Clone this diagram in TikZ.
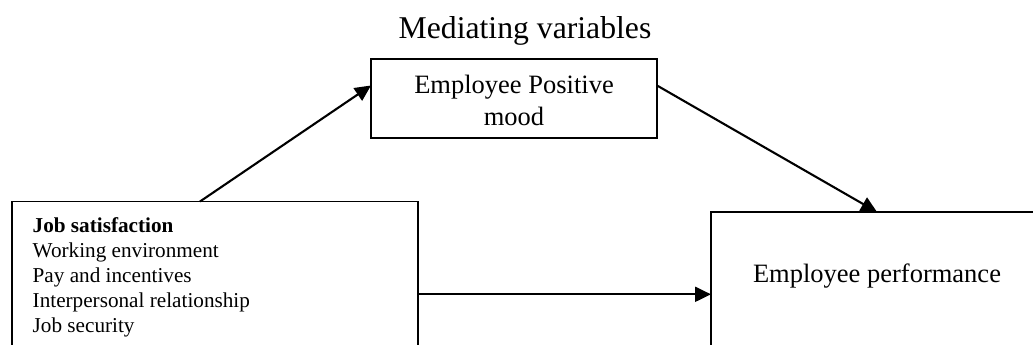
\documentclass[tikz,border=0pt]{standalone}
\usepackage{fontspec}
\setmainfont{Liberation Serif}
\usetikzlibrary{arrows.meta}
\begin{document}
\begin{tikzpicture}[x=1pt,y=-1pt,
  box/.style={draw, line width=1.9pt, outer sep=0pt, inner sep=0pt, anchor=north west},
  arr/.style={line width=2.1pt, -{Triangle[length=16pt,width=15pt]}},
  lbl/.style={inner sep=0pt, outer sep=0pt}]
\useasboundingbox (0,0) rectangle (1033,345);
\clip (0,0) rectangle (1033,345);
\node[box, minimum width=406pt, minimum height=185.6pt] (lbox) at (12,201.5) {};
\node[box, minimum width=286pt, minimum height=79pt] (mbox) at (371,59.3) {};
\node[box, minimum width=332pt, minimum height=164.6pt] (rbox) at (711,212) {};
\node[lbl, anchor=base, font=\fontsize{31.7}{38}\selectfont] (title) at (525,38.3) {Mediating variables};
\node[lbl, anchor=base, align=center, font=\fontsize{26.5}{31.7}\selectfont] (mtext) at (514,125) {Employee Positive\\mood};
\node[lbl, anchor=base, font=\fontsize{26.5}{31.7}\selectfont] (rtext) at (877,282) {Employee performance};
\node[lbl, anchor=base west, align=left, font=\fontsize{21.2}{25}\selectfont] (ltext) at (32.7,332.7) {\textbf{Job satisfaction}\\Working environment\\Pay and incentives\\Interpersonal relationship\\Job security};
\draw[arr] ([xshift=188pt]lbox.north west) -- ([yshift=13.3pt]mbox.west);
\draw[arr] ([yshift=13.3pt]mbox.east) -- (rbox.north);
\draw[arr] (lbox.east) -- (rbox.west);
\end{tikzpicture}
\end{document}
